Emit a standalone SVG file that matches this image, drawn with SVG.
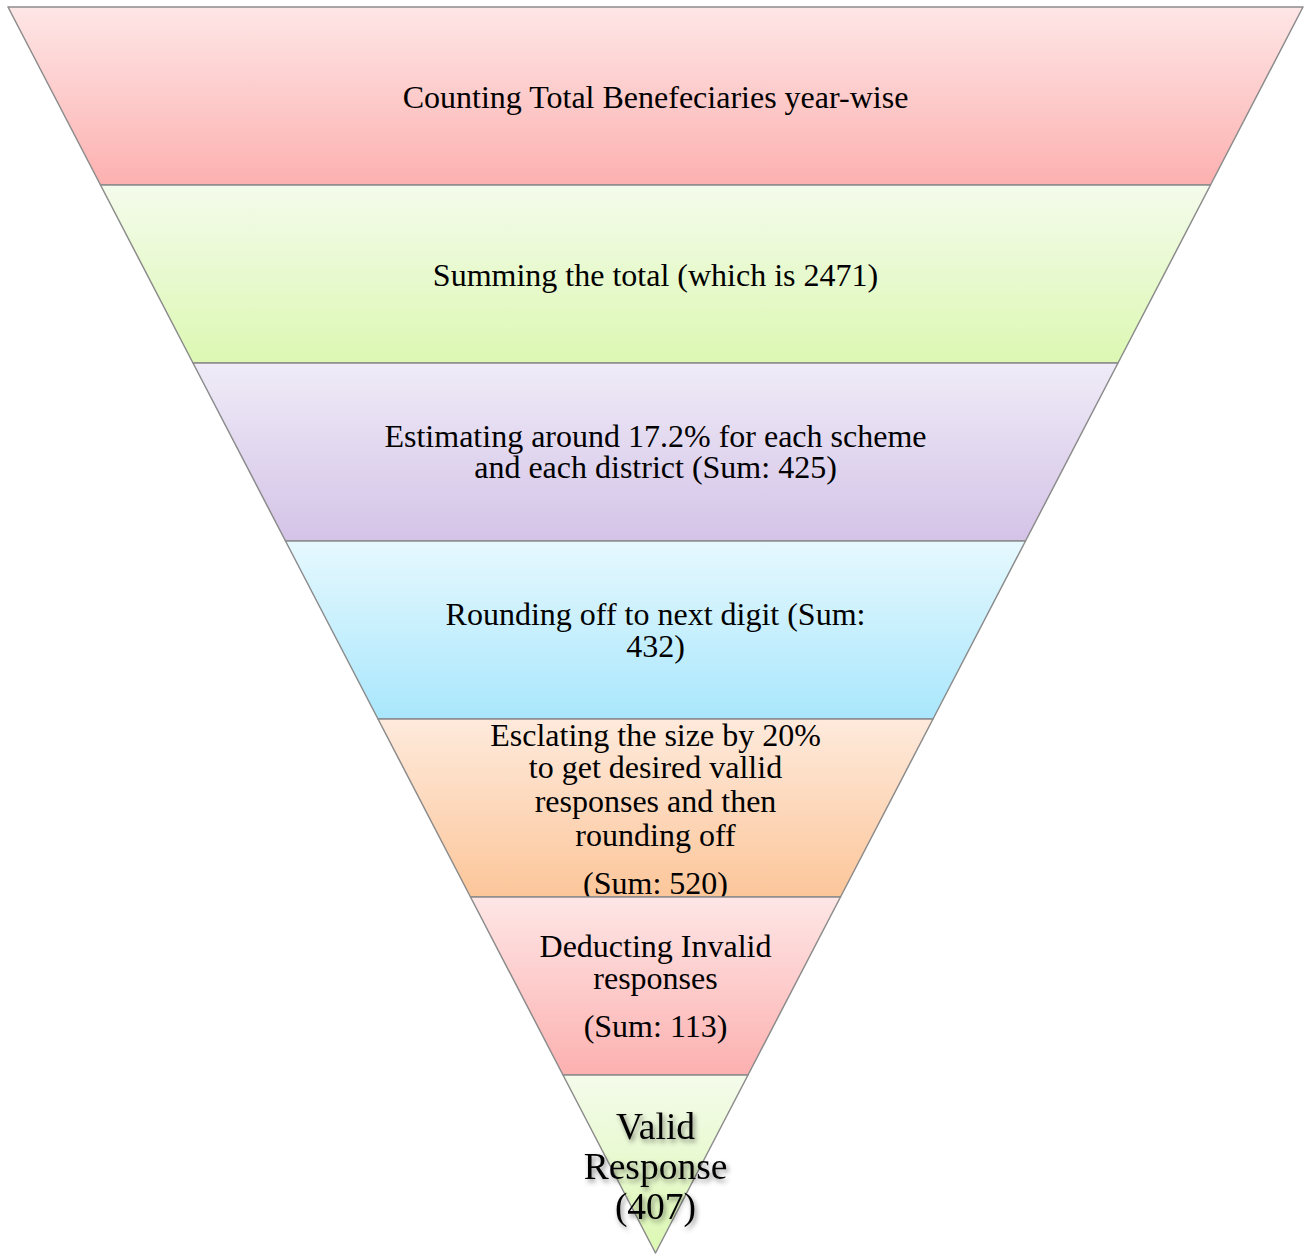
<svg xmlns="http://www.w3.org/2000/svg" width="1311" height="1256" viewBox="0 0 1311 1256">
<style>
  .band { stroke: #8c8c8c; stroke-width: 1.5; stroke-linejoin: round; }
  .t { font-family: "Liberation Serif", "Times New Roman", serif; font-size: 32px; fill: #000; text-anchor: middle; }
  .big { font-size: 37.5px; filter: url(#shadow); }
</style>
<defs>
  <linearGradient id="gRed" x1="0" y1="0" x2="0" y2="1"><stop offset="0" stop-color="#fee6e6"/><stop offset="1" stop-color="#fcb1b0"/></linearGradient>
  <linearGradient id="gGreen" x1="0" y1="0" x2="0" y2="1"><stop offset="0" stop-color="#f4fbeb"/><stop offset="1" stop-color="#dcf8b3"/></linearGradient>
  <linearGradient id="gPurple" x1="0" y1="0" x2="0" y2="1"><stop offset="0" stop-color="#efebf7"/><stop offset="1" stop-color="#d4c3e7"/></linearGradient>
  <linearGradient id="gBlue" x1="0" y1="0" x2="0" y2="1"><stop offset="0" stop-color="#e6f8fe"/><stop offset="1" stop-color="#a9e7fc"/></linearGradient>
  <linearGradient id="gOrange" x1="0" y1="0" x2="0" y2="1"><stop offset="0" stop-color="#feeadc"/><stop offset="1" stop-color="#fcc69a"/></linearGradient>
  <filter id="shadow" x="-20%" y="-30%" width="140%" height="160%">
    <feDropShadow dx="2" dy="3" stdDeviation="2.5" flood-color="#000" flood-opacity="0.45"/>
  </filter>
</defs>
<g id="band1"><polygon class="band" fill="url(#gRed)" points="8,7 1303,7 1210.5,185 100.5,185"/><text class="t" x="655.5" y="108">Counting Total Benefeciaries year-wise</text></g>
<g id="band2"><polygon class="band" fill="url(#gGreen)" points="100.5,185 1210.5,185 1118,363 193,363"/><text class="t" x="655.5" y="286">Summing the total (which is 2471)</text></g>
<g id="band3"><polygon class="band" fill="url(#gPurple)" points="193,363 1118,363 1025.5,541 285.5,541"/><text class="t" x="655.5" y="447">Estimating around 17.2% for each scheme</text><text class="t" x="655.5" y="478">and each district (Sum: 425)</text></g>
<g id="band4"><polygon class="band" fill="url(#gBlue)" points="285.5,541 1025.5,541 933,719 378,719"/><text class="t" x="655.5" y="625">Rounding off to next digit (Sum:</text><text class="t" x="655.5" y="657">432)</text></g>
<g id="band5"><polygon class="band" fill="url(#gOrange)" points="378,719 933,719 840.5,897 470.5,897"/><text class="t" x="655.5" y="746">Esclating the size by 20%</text><text class="t" x="655.5" y="778">to get desired vallid</text><text class="t" x="655.5" y="812">responses and then</text><text class="t" x="655.5" y="846">rounding off</text><text class="t" x="655.5" y="894">(Sum: 520)</text></g>
<g id="band6"><polygon class="band" fill="url(#gRed)" points="470.5,897 840.5,897 748,1075 563,1075"/><text class="t" x="655.5" y="957">Deducting Invalid</text><text class="t" x="655.5" y="989">responses</text><text class="t" x="655.5" y="1037">(Sum: 113)</text></g>
<g id="band7"><polygon class="band" fill="url(#gGreen)" points="563,1075 748,1075 655.5,1253"/><text class="t big" x="655.5" y="1139">Valid</text><text class="t big" x="655.5" y="1179">Response</text><text class="t big" x="655.5" y="1219">(407)</text></g>
<g id="connectors"></g>
</svg>
